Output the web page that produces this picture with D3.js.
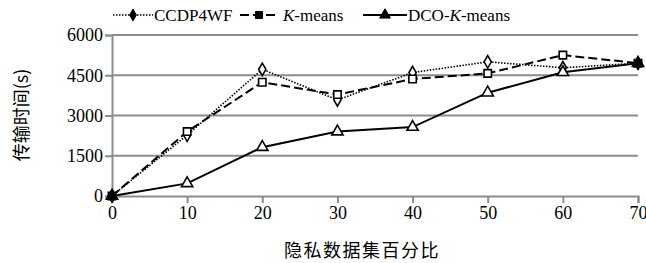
<!DOCTYPE html>
<html>
<head>
<meta charset="utf-8">
<script src="https://cdn.jsdelivr.net/npm/d3@7"></script>
<style>
  body { margin: 0; background: #fff; }
</style>
</head>
<body>
<svg id="chart" width="646" height="263"></svg>
<script>
// data
var percents = [0, 10, 20, 30, 40, 50, 60, 70];
var yTicks = [0, 1500, 3000, 4500, 6000];
var ccdp4wf = [0, 2270, 4720, 3580, 4600, 5000, 4780, 4950];
var kmeans  = [0, 2400, 4240, 3780, 4360, 4570, 5250, 4950];
var dcoKmeans = [0, 470, 1820, 2400, 2570, 3850, 4610, 4950];

var serif = "'Liberation Serif', 'DejaVu Serif', serif";
var cjk = "'Noto Sans CJK SC', sans-serif";

var svg = d3.select('#chart');
var padding = {t: 35, r: 8, b: 67, l: 112};
var chartWidth = 646 - padding.l - padding.r;
var chartHeight = 263 - padding.t - padding.b;

var xScale = d3.scaleLinear().domain([0, 70]).range([0, chartWidth]);
var yScale = d3.scaleLinear().domain([0, 6000]).range([chartHeight, 0]);

var chartG = svg.append('g')
    .attr('transform', 'translate(' + [padding.l, padding.t] + ')');

// gridlines
chartG.selectAll('.grid')
    .data(yTicks.filter(d => d > 0))
    .enter().append('line')
    .attr('class', 'grid')
    .attr('x1', 0).attr('x2', chartWidth)
    .attr('y1', d => yScale(d)).attr('y2', d => yScale(d))
    .attr('stroke', '#8c8c8c').attr('stroke-width', 2);

// axes
var yAxis = chartG.append('g')
    .call(d3.axisLeft(yScale).tickValues(yTicks).tickFormat(d3.format('d')).tickSize(7).tickPadding(2));
var xAxis = chartG.append('g')
    .attr('transform', 'translate(0,' + chartHeight + ')')
    .call(d3.axisBottom(xScale).tickValues(percents).tickFormat(d3.format('d')).tickSize(7).tickPadding(3));
[xAxis, yAxis].forEach(function(ax) {
    ax.attr('font-family', serif).attr('font-size', 18);
    ax.select('.domain').attr('stroke', '#8c8c8c').attr('stroke-width', 2);
    ax.selectAll('.tick line').attr('stroke', '#8c8c8c').attr('stroke-width', 2);
    ax.selectAll('.tick text').attr('fill', '#000');
});

// series
var series = [
    {name: 'CCDP4WF', values: ccdp4wf, dash: '1.5,1.5', width: 1.6, marker: d3.symbolDiamond},
    {name: 'K-means', values: kmeans, dash: '9,4', width: 2, marker: d3.symbolSquare},
    {name: 'DCO-K-means', values: dcoKmeans, dash: null, width: 2, marker: d3.symbolTriangle}
];

var line = d3.line()
    .x((d, i) => xScale(percents[i]))
    .y(d => yScale(d));

series.forEach(function(s) {
    chartG.append('path')
        .datum(s.values)
        .attr('d', line)
        .attr('fill', 'none')
        .attr('stroke', '#000')
        .attr('stroke-width', s.width)
        .attr('stroke-dasharray', s.dash);
});
series.forEach(function(s) {
    chartG.selectAll(null)
        .data(s.values)
        .enter().append('path')
        .attr('d', d3.symbol().type(s.marker).size(s.marker === d3.symbolDiamond ? 45 : 55))
        .attr('transform', (d, i) => 'translate(' + [xScale(percents[i]), yScale(d)] + ')')
        .attr('fill', (d, i) => (i === 0 || i === percents.length - 1) ? '#000' : '#fff')
        .attr('stroke', '#000')
        .attr('stroke-width', 1.6);
});

// axis labels
svg.append('text')
    .attr('font-family', cjk)
    .attr('font-size', 18)
    .attr('transform', 'translate(28,115) rotate(-90)')
    .attr('text-anchor', 'middle')
    .text('传输时间(s)');

svg.append('text')
    .attr('font-family', cjk)
    .attr('font-size', 18)
    .attr('x', 362).attr('y', 257)
    .attr('text-anchor', 'middle')
    .style('letter-spacing', '1.5px')
    .text('隐私数据集百分比');

// legend
var legendItems = [
    {s: series[0], x0: 113, x1: 153, tx: 154},
    {s: series[1], x0: 240, x1: 278, tx: 283},
    {s: series[2], x0: 363, x1: 407, tx: 408}
];
var legend = svg.append('g').attr('font-family', serif).attr('font-size', 17);
legendItems.forEach(function(it) {
    legend.append('line')
        .attr('x1', it.x0).attr('x2', it.x1).attr('y1', 15).attr('y2', 15)
        .attr('stroke', '#000').attr('stroke-width', it.s.width)
        .attr('stroke-dasharray', it.s.dash);
    legend.append('path')
        .attr('d', d3.symbol().type(it.s.marker).size(it.s.marker === d3.symbolDiamond ? 40 : 50))
        .attr('transform', 'translate(' + [(it.x0 + it.x1) / 2, 15] + ')')
        .attr('fill', '#000').attr('stroke', '#000').attr('stroke-width', 1);
    var t = legend.append('text')
        .attr('x', it.tx).attr('y', 21);
    var parts = it.s.name.split('K');
    parts.forEach(function(p, i) {
        if (i > 0) t.append('tspan').attr('font-style', 'italic').text('K');
        t.append('tspan').text(p);
    });
});
</script>
</body>
</html>
